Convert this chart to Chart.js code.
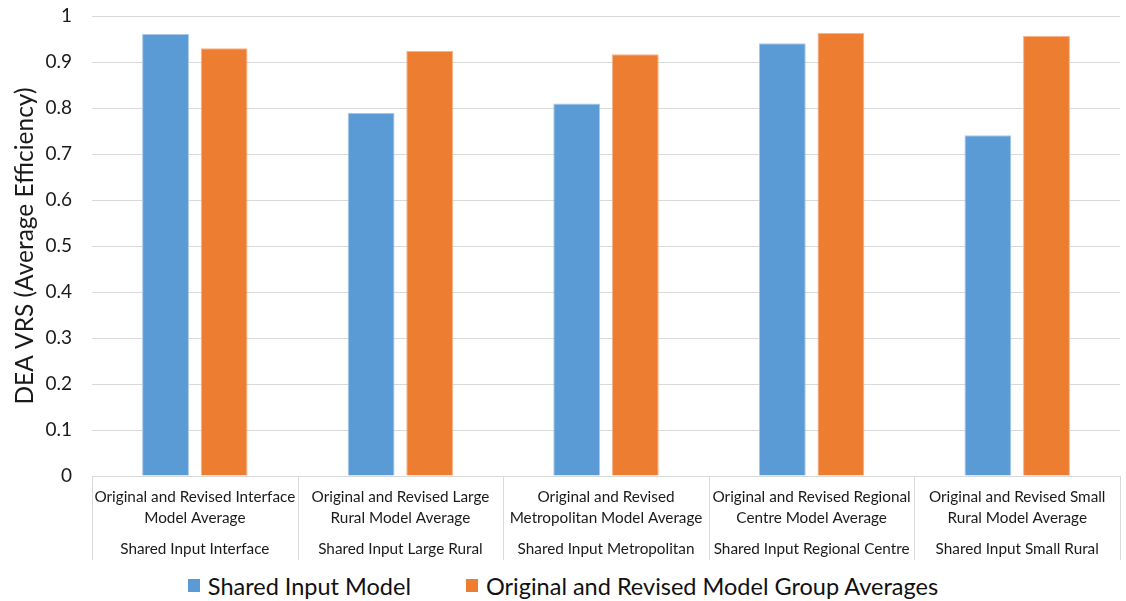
<!DOCTYPE html>
<html>
<head>
<meta charset="utf-8">
<script src="https://cdn.jsdelivr.net/npm/chart.js@4.4.1/dist/chart.umd.min.js"></script>
<style>
  html, body { margin: 0; padding: 0; background: #fff; }
  #wrap { width: 1126px; height: 562px; position: relative; }
  .legend {
    width: 1126px; height: 39px; box-sizing: border-box; padding-top: 8px;
    display: flex; justify-content: center; align-items: center;
    gap: 55px;
    font-family: Lato, "Open Sans", sans-serif; font-size: 23.5px; color: #111;
  }
  .legend-item { display: flex; align-items: center; }
  .legend-box { width: 12px; height: 13px; margin-right: 8px; }
</style>
</head>
<body>
<div id="wrap"><canvas id="effChart"></canvas></div>
<div class="legend" id="legend"></div>
<script>
// Upper label level (two lines each) and lower label level
const modelLabels = [
    ['Original and Revised Interface', 'Model Average'],
    ['Original and Revised Large', 'Rural Model Average'],
    ['Original and Revised', 'Metropolitan Model Average'],
    ['Original and Revised Regional', 'Centre Model Average'],
    ['Original and Revised Small', 'Rural Model Average']
];
const sharedLabels = [
    'Shared Input Interface',
    'Shared Input Large Rural',
    'Shared Input Metropolitan',
    'Shared Input Regional Centre',
    'Shared Input Small Rural'
];
const sharedInputValues = [0.961, 0.789, 0.810, 0.941, 0.741];
const groupAverageValues = [0.930, 0.924, 0.917, 0.963, 0.957];

const FONT = 'Lato, "Open Sans", sans-serif';
const TEXT = '#1a1a1a';

// Vertical separators between categories, running down through the label rows
const dividerPlugin = {
    id: 'dividers',
    afterDraw(chart) {
        const x = chart.scales.x;
        const x2 = chart.scales.x2;
        const ctx = chart.ctx;
        const n = modelLabels.length;
        const step = (x.right - x.left) / n;
        ctx.save();
        ctx.strokeStyle = '#d9d9d9';
        ctx.lineWidth = 1;
        for (let i = 0; i <= n; i++) {
            const px = Math.round(x.left + i * step) + 0.5;
            ctx.beginPath();
            ctx.moveTo(px, chart.chartArea.bottom);
            ctx.lineTo(px, x2.bottom);
            ctx.stroke();
        }
        ctx.restore();
    }
};

function buildLegend(chart) {
    const box = document.getElementById('legend');
    chart.data.datasets.forEach(ds => {
        const item = document.createElement('div');
        item.className = 'legend-item';
        const swatch = document.createElement('span');
        swatch.className = 'legend-box';
        swatch.style.background = ds.backgroundColor;
        const text = document.createElement('span');
        text.textContent = ds.label;
        item.appendChild(swatch);
        item.appendChild(text);
        box.appendChild(item);
    });
}

function initializeChart() {
    const ctx = document.getElementById('effChart');

    const chart = new Chart(ctx, {
        type: 'bar',
        data: {
            labels: modelLabels,
            datasets: [{
                label: 'Shared Input Model',
                data: sharedInputValues,
                backgroundColor: '#5B9BD5',
                borderColor: '#a9c8ea',
                borderWidth: 1,
                categoryPercentage: 0.57,
                barPercentage: 0.8
            }, {
                label: 'Original and Revised Model Group Averages',
                data: groupAverageValues,
                backgroundColor: '#ED7D31',
                borderColor: '#f5b48a',
                borderWidth: 1,
                categoryPercentage: 0.57,
                barPercentage: 0.8
            }]
        },
        options: {
            responsive: true,
            maintainAspectRatio: false,
            animation: false,
            layout: {
                padding: { top: 1, right: 6, left: 0, bottom: 2 }
            },
            plugins: {
                legend: { display: false },
                tooltip: { enabled: false }
            },
            scales: {
                y: {
                    min: 0,
                    max: 1,
                    // tick padding would otherwise push the plot top down
                    afterFit: s => { s.paddingTop = 16; s.paddingBottom = 12; },
                    ticks: {
                        stepSize: 0.1,
                        padding: 20,
                        color: TEXT,
                        font: { family: FONT, size: 19 },
                        callback: v => String(Number(v.toFixed(1)))
                    },
                    grid: {
                        color: '#d9d9d9',
                        drawTicks: false
                    },
                    border: { display: false },
                    title: {
                        display: true,
                        text: 'DEA VRS (Average Efficiency)',
                        color: TEXT,
                        padding: { top: 13, bottom: -12 },
                        font: { family: FONT, size: 24.5, lineHeight: 1 }
                    }
                },
                x: {
                    position: 'bottom',
                    grid: { display: false, drawTicks: false },
                    border: { color: '#d9d9d9' },
                    ticks: {
                        maxRotation: 0,
                        autoSkip: false,
                        padding: 10.5,
                        color: TEXT,
                        font: { family: FONT, size: 15.3, lineHeight: 1.37 }
                    }
                },
                x2: {
                    type: 'category',
                    position: 'bottom',
                    labels: sharedLabels,
                    offset: true,
                    grid: { display: false, drawTicks: false },
                    border: { display: false },
                    ticks: {
                        maxRotation: 0,
                        autoSkip: false,
                        padding: 0,
                        color: TEXT,
                        font: { family: FONT, size: 15.3, lineHeight: 1.37 }
                    }
                }
            }
        },
        plugins: [dividerPlugin]
    });

    buildLegend(chart);
}

document.addEventListener('DOMContentLoaded', initializeChart);
</script>
</body>
</html>
